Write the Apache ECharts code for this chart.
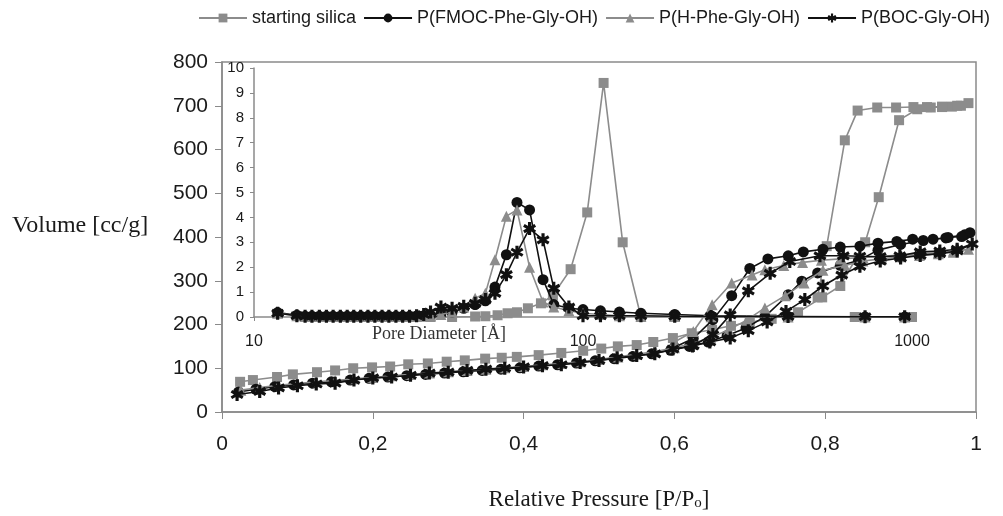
<!DOCTYPE html>
<html><head><meta charset="utf-8">
<script src="https://cdn.jsdelivr.net/npm/echarts@6/dist/echarts.min.js"></script>
<style>html,body{margin:0;padding:0;background:#fff}#c{width:1003px;height:516px}</style>
</head><body><div id="c"></div>
<script>
// ---------- names ----------
const names = ['starting silica', 'P(FMOC-Phe-Gly-OH)', 'P(H-Phe-Gly-OH)', 'P(BOC-Gly-OH)'];
const xTicks = [0, 0.2, 0.4, 0.6, 0.8, 1];

// ---------- main isotherms (relative pressure, volume cc/g) ----------
const silicaP = [0.024,0.041,0.073,0.094,0.126,0.150,0.174,0.199,0.223,0.247,0.273,0.298,0.322,0.349,0.371,0.391,0.42,0.45,0.479,0.503,0.525,0.550,0.572,0.598,0.623,0.65,0.675,0.70,0.729,0.764,0.796,0.82,0.853,0.871,0.898,0.922,0.94,0.955,0.968,0.98,0.99,
                 0.975,0.955,0.935,0.917,0.894,0.869,0.843,0.826,0.802,0.79];
const silicaV = [69,73,80,86,91,95,100,102,104,109,111,115,118,122,124,126,130,135,140,145,150,153,160,169,180,188,197,205,213,228,262,288,388,491,667,692,696,697,698,700,706,
                 700,698,697,697,696,696,689,621,379,262];

const fmocP = [0.022,0.045,0.07,0.095,0.12,0.145,0.17,0.195,0.22,0.245,0.27,0.295,0.32,0.345,0.37,0.395,0.42,0.445,0.47,0.495,0.52,0.545,0.57,0.595,0.62,0.645,0.67,0.695,0.72,0.751,0.769,0.79,0.82,0.844,0.87,0.9,0.93,0.96,0.985,
               0.992,0.981,0.963,0.943,0.916,0.895,0.87,0.846,0.82,0.797,0.771,0.751,0.724,0.70,0.676,0.651,0.625,0.60];
const fmocV = [46,52,58,62,66,69,73,77,80,83,86,89,92,95,98,101,105,108,112,117,122,127,133,141,150,160,175,192,218,268,299,318,335,346,370,383,392,398,405,
               410,401,399,395,395,390,386,379,377,372,366,357,350,328,266,211,168,148];

const hpheP = [0.025,0.05,0.075,0.1,0.125,0.15,0.175,0.2,0.225,0.25,0.275,0.3,0.325,0.35,0.375,0.4,0.425,0.45,0.475,0.5,0.525,0.55,0.575,0.6,0.625,0.648,0.672,0.696,0.72,0.747,0.772,0.797,0.826,0.85,0.875,0.9,0.925,0.95,0.97,0.99,
               0.97,0.95,0.925,0.9,0.875,0.85,0.82,0.795,0.77,0.745,0.72,0.703,0.676,0.65,0.625,0.6];
const hpheV = [50,56,61,65,69,72,76,79,83,86,89,92,95,98,101,104,108,111,115,120,126,132,138,147,157,170,188,210,238,266,295,324,335,345,350,355,358,362,365,372,
               368,364,362,359,356,353,350,347,342,335,325,313,295,245,184,160];

const bocP = [0.02,0.05,0.075,0.1,0.125,0.15,0.175,0.2,0.225,0.25,0.275,0.3,0.325,0.35,0.375,0.4,0.425,0.45,0.475,0.5,0.524,0.55,0.574,0.598,0.624,0.647,0.674,0.698,0.723,0.748,0.773,0.797,0.822,0.846,0.873,0.9,0.926,0.952,0.975,0.995,
              0.975,0.952,0.926,0.899,0.873,0.846,0.824,0.793,0.753,0.727,0.698,0.674,0.651,0.625];
const bocV = [40,47,55,60,64,66,73,78,80,84,89,91,95,98,100,103,106,108,113,118,124,129,133,144,151,160,169,186,206,230,257,288,313,333,345,352,358,362,368,384,
              372,368,366,357,355,356,357,357,344,317,277,222,177,152];

// ---------- inset: pore size distribution (pore diameter Å, dV/dlogD) ----------
const insetTicks = [10, 100, 1000];
const silicaD   = [34.4,40.0,47.0,50.5,55.0,59.0,63.0,68.0,74.5,81.0,91.7,103,115.5,132,150,190,245,420,670,1000];
const silicaPSD = [0,0,0.02,0.03,0.07,0.15,0.19,0.35,0.55,0.87,1.92,4.2,9.4,3.0,0.0,0.0,0.0,0.0,0.0,0.0];

const polyD   = [11.8,13.5,14.3,15.0,15.8,16.6,17.4,18.3,19.2,20.1,21.1,22.2,23.3,24.5,25.7,27.0,28.3,29.7,31.2,32.8,34.4,37.0,40.0,43.4,47.0,50.5,54.0,58.5,63.0,68.8,75.6,81.5,90.6,100,113,129,150,190,245,420,720,950];
const fmocPSD = [0.18,0.07,0.03,0.03,0.03,0.03,0.03,0.03,0.03,0.03,0.03,0.03,0.03,0.03,0.03,0.03,0.03,0.03,0.04,0.05,0.06,0.12,0.2,0.35,0.5,0.65,1.2,2.5,4.6,4.3,1.5,0.5,0.35,0.3,0.25,0.2,0.15,0.1,0.05,0.02,0.0,0.0];
const hphePSD = [0.15,0.05,0.02,0.02,0.02,0.02,0.02,0.02,0.02,0.02,0.02,0.02,0.02,0.02,0.02,0.02,0.02,0.02,0.02,0.03,0.05,0.1,0.2,0.4,0.75,0.95,2.3,4.05,4.3,2.0,0.6,0.4,0.25,0.15,0.1,0.05,0.03,0.02,0.01,0.0,0.0,0.0];
const bocPSD  = [0.15,0.05,0.03,0.03,0.03,0.03,0.03,0.03,0.03,0.03,0.03,0.03,0.03,0.03,0.03,0.03,0.03,0.03,0.05,0.1,0.2,0.4,0.35,0.43,0.55,0.7,0.95,1.7,2.6,3.55,3.1,1.15,0.4,0.05,0.05,0.05,0.05,0.03,0.02,0.02,0.01,0.01];

// ---------- styling ----------
const GREY = '#8c8c8c', BLACK = '#111111';
const STAR = 'path://M6.2,0L3.8,0L3.8,10L6.2,10ZM1.27,1.461L0.07,3.539L8.73,8.539L9.93,6.461ZM9.93,3.539L8.73,1.461L0.07,6.461L1.27,8.539Z';
const looks = [
  {color: GREY, symbol: 'rect', size: 10, w: 1.6},
  {color: BLACK, symbol: 'circle', size: 11, w: 1.6},
  {color: GREY, symbol: 'triangle', size: 11, w: 1.6},
  {color: BLACK, symbol: STAR, size: 13, w: 1.6}
];
const pairs = (xs, ys) => xs.map((x, i) => [x, ys[i]]);
const mainData = [pairs(silicaP, silicaV), pairs(fmocP, fmocV), pairs(hpheP, hpheV), pairs(bocP, bocV)];
const insetData = [pairs(silicaD, silicaPSD), pairs(polyD, fmocPSD), pairs(polyD, hphePSD), pairs(polyD, bocPSD)];

function mk(i, data, axis) {
  const L = looks[i];
  return {
    name: names[i], type: 'line', data: data, xAxisIndex: axis, yAxisIndex: axis,
    symbol: L.symbol, symbolSize: L.size, showAllSymbol: true,
    lineStyle: {color: L.color, width: L.w},
    itemStyle: {color: L.color, borderWidth: 0},
    emphasis: {disabled: true}, z: 2 + i
  };
}

const series = [];
for (let i = 0; i < 4; i++) series.push(mk(i, insetData[i], 1));
for (let i = 0; i < 4; i++) series.push(mk(i, mainData[i], 0));

const SANS = '"Liberation Sans", Arial, sans-serif';
const SERIF = '"Liberation Serif", "Times New Roman", serif';
const axisGrey = {lineStyle: {color: '#8a8a8a', width: 1.5}};

const chart = echarts.init(document.getElementById('c'), null, {renderer: 'canvas'});
chart.setOption({
  animation: false,
  backgroundColor: '#fff',
  legend: {
    data: names, top: 9, left: 198, width: 805, padding: 0, itemWidth: 48, itemHeight: 11, itemGap: 7,
    textStyle: {fontFamily: SANS, fontSize: 18, color: '#1a1a1a'}
  },
  grid: [
    {left: 222, right: 27, top: 62, bottom: 93, show: true, borderColor: '#8a8a8a', borderWidth: 1.5, containLabel: false},
    {left: 254, right: 91, top: 68, bottom: 199, containLabel: false}
  ],
  xAxis: [
    {type: 'value', gridIndex: 0, min: 0, max: 1, interval: 0.2,
     axisLine: axisGrey, axisTick: {show: true, length: 7, lineStyle: {color: '#8a8a8a'}},
     splitLine: {show: false},
     axisLabel: {fontFamily: SANS, fontSize: 21, color: '#1a1a1a', margin: 22,
       formatter: v => (v === 0 || v === 1) ? String(v) : v.toFixed(1).replace('.', ',')},
     name: '{a|Relative Pressure [P/P}{b|o}{a|]}', nameLocation: 'middle', nameGap: 69,
     nameTextStyle: {rich: {
       a: {fontFamily: SERIF, fontSize: 23, color: '#1a1a1a', lineHeight: 30, verticalAlign: 'bottom'},
       b: {fontFamily: SERIF, fontSize: 15, color: '#1a1a1a', lineHeight: 22, verticalAlign: 'bottom'}
     }}},
    {type: 'log', logBase: 10, gridIndex: 1, min: 10, max: 1000,
     axisLine: axisGrey, axisTick: {show: true, length: 4, lineStyle: {color: '#8a8a8a'}},
     splitLine: {show: false}, minorTick: {show: false},
     axisLabel: {fontFamily: SANS, fontSize: 16, color: '#1a1a1a', margin: 17,
       formatter: v => insetTicks.indexOf(Math.round(v)) >= 0 ? String(Math.round(v)) : ''}}
  ],
  yAxis: [
    {type: 'value', gridIndex: 0, min: 0, max: 800, interval: 100,
     axisLine: {show: true, lineStyle: {color: '#8a8a8a', width: 1.5}},
     axisTick: {show: true, length: 7, lineStyle: {color: '#8a8a8a'}},
     splitLine: {show: false},
     axisLabel: {fontFamily: SANS, fontSize: 21, color: '#1a1a1a', margin: 14}},
    {type: 'value', gridIndex: 1, min: 0, max: 10, interval: 1,
     axisLine: {show: true, lineStyle: {color: '#8a8a8a', width: 1.5}},
     axisTick: {show: true, length: 4, lineStyle: {color: '#8a8a8a'}},
     splitLine: {show: false},
     axisLabel: {fontFamily: SANS, fontSize: 15, color: '#1a1a1a', margin: 10}}
  ],
  graphic: [
    {type: 'text', left: 12, top: 214, style: {text: 'Volume [cc/g]', font: '24px ' + SERIF, fill: '#1a1a1a'}},
    {type: 'text', left: 372, top: 325, style: {text: 'Pore Diameter [Å]', font: '18px ' + SERIF, fill: '#333'}}
  ],
  series: series
});
</script></body></html>
